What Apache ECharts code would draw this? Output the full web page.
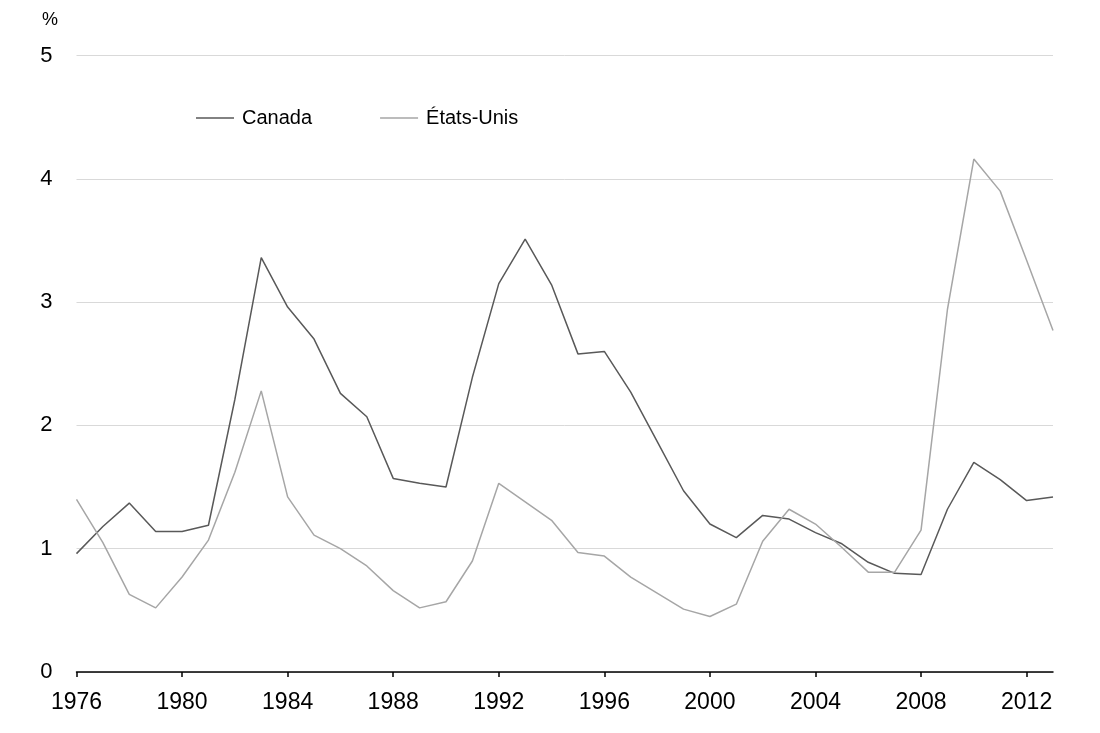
<!DOCTYPE html>
<html>
<head>
<meta charset="utf-8">
<script src="https://cdn.jsdelivr.net/npm/echarts@6/dist/echarts.min.js"></script>
<style>html,body{margin:0;padding:0;background:#fff}#c{width:1100px;height:733px}</style>
</head>
<body>
<div id="c"></div>
<script>
const years = [];
for (let y = 1976; y <= 2013; y++) years.push(String(y));
const canada = [0.96,1.18,1.37,1.14,1.14,1.19,2.21,3.36,2.96,2.70,2.26,2.07,1.57,1.53,1.50,2.39,3.15,3.51,3.14,2.58,2.60,2.27,1.87,1.47,1.20,1.09,1.27,1.24,1.13,1.04,0.89,0.80,0.79,1.32,1.70,1.56,1.39,1.42];
const usa = [1.40,1.05,0.63,0.52,0.77,1.07,1.62,2.28,1.42,1.11,1.00,0.86,0.66,0.52,0.57,0.90,1.53,1.38,1.23,0.97,0.94,0.77,0.64,0.51,0.45,0.55,1.06,1.32,1.20,1.01,0.81,0.81,1.15,2.94,4.16,3.90,3.34,2.77];
const yTicks = [0,1,2,3,4,5];
const seriesNames = ['Canada', 'États-Unis'];

const FONT = 'Liberation Sans, Arial, sans-serif';
const chart = echarts.init(document.getElementById('c'));
chart.setOption({
  animation: false,
  textStyle: { fontFamily: FONT },
  grid: { left: 76.5, right: 47, top: 55.5, bottom: 61, containLabel: false },
  graphic: [{ type: 'text', left: 42, top: 11, style: { text: '%', fontSize: 18, fill: '#000', fontFamily: FONT } }],
  legend: {
    left: 191, top: 103,
    itemWidth: 38, itemHeight: 1.3, itemGap: 68,
    icon: 'rect',
    textStyle: { fontSize: 20, color: '#000', padding: [0,0,0,3] },
    data: seriesNames
  },
  xAxis: {
    type: 'category', data: years, boundaryGap: false,
    axisLine: { lineStyle: { color: '#000', width: 1.5 } },
    axisTick: { interval: 3, length: 5, lineStyle: { color: '#000', width: 1.5 } },
    axisLabel: { interval: 3, fontSize: 23, color: '#000', margin: 19 },
    splitLine: { show: false }
  },
  yAxis: {
    type: 'value', min: yTicks[0], max: yTicks[yTicks.length-1], interval: 1,
    axisLine: { show: false }, axisTick: { show: false },
    axisLabel: { fontSize: 22, color: '#000', margin: 24 },
    splitLine: { lineStyle: { color: '#d9d9d9', width: 1 } }
  },
  series: [
    { name: seriesNames[0], type: 'line', data: canada, symbol: 'none', lineStyle: { color: '#595959', width: 1.5 }, itemStyle: { color: '#595959' } },
    { name: seriesNames[1], type: 'line', data: usa, symbol: 'none', lineStyle: { color: '#a6a6a6', width: 1.5 }, itemStyle: { color: '#a6a6a6' } }
  ]
});
</script>
</body>
</html>
